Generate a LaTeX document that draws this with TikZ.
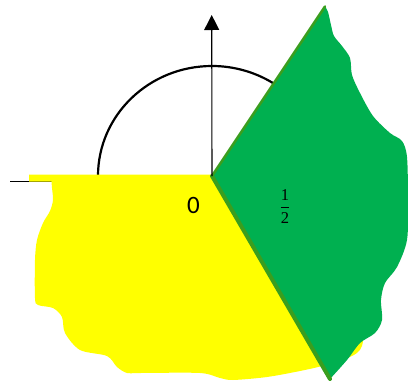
\RequirePackage{fix-cm}
\documentclass[tikz,border=0pt]{standalone}
\usepackage{fontspec}
\newfontfamily\calibri{Carlito}
\newfontfamily\serifdig{Liberation Serif}
\usetikzlibrary{arrows.meta}
\definecolor{yfill}{HTML}{FFFF00}
\definecolor{gfill}{HTML}{00B050}
\definecolor{gedge}{HTML}{3A9E1E}
\tikzset{
  yellowzone/.style={fill=yfill},
  greenzone/.style={fill=gfill},
  greenedge/.style={draw=gedge, line cap=round},
  axisarrow/.style={draw=black, line width=1.1pt, -{Triangle[width=15pt,length=15pt]}},
  anglearc/.style={draw=black, line width=2.2pt},
  leftline/.style={draw=black, line width=1.3pt},
  lab/.style={inner sep=0pt, text=black}
}
\begin{document}
\begin{tikzpicture}[x=1pt,y=-1pt]
\useasboundingbox (0,0) rectangle (408,381);
\coordinate (O) at (212,176);
\coordinate (T) at (211.7,15);
\coordinate (GT) at (325,6.5);
\coordinate (GB) at (330,379);
\coordinate (L1) at (10,181.3);
\coordinate (L2) at (51.5,181.3);
\coordinate (A0) at (98,176);
% angle arc
\draw[anglearc] (A0) arc[start angle=180, end angle=320, x radius=114, y radius=110];
% left short line
\draw[leftline] (L1) -- (L2);
% yellow zone
\fill[yellowzone] (29,174.5) -- (213,174.5) -- (300,300) -- (364,333)
  -- plot[smooth, tension=0.5] coordinates {(364,333) (362,346) (357,353) (345,359) (322,366) (300,371) (267,377) (233,380) (220,378) (200,373) (140,373) (127,373) (117,367) (107,356) (80,350) (65,333) (62,317) (53,308) (38,305) (35,298) (35,260) (37,240) (43,223) (50,211) (53,200) (52,188) (51.5,181.5)}
  -- (29,181.5) -- cycle;
% green zone
\fill[greenzone] (O) -- (GT)
  -- plot[smooth, tension=0.5] coordinates {(325,6.5) (328,12) (331,25) (334,36) (342,46) (350,58) (352,75) (360,93) (373,116) (390,133) (402,141) (407,157) (408,200) (407,240) (397,267) (385,283) (381,300) (382,320) (375,333) (360,343) (347,360) (330,379)}
  -- (GB) -- cycle;
\draw[greenedge, line width=2.6pt] (GT) -- (O);
\draw[greenedge, line width=4pt] (O) -- (GB);
% vertical axis arrow
\draw[axisarrow] (O) -- (T);
% labels
\node[lab, font=\calibri\fontsize{25}{25}\selectfont] (zero) at (193.5,205) {0};
\node[lab, anchor=base, font=\fontsize{16.5}{16.5}\selectfont] (half) at (285,211.8) {$\displaystyle\frac{\hbox{\serifdig 1}}{\hbox{\serifdig 2}}$};
\end{tikzpicture}
\end{document}
